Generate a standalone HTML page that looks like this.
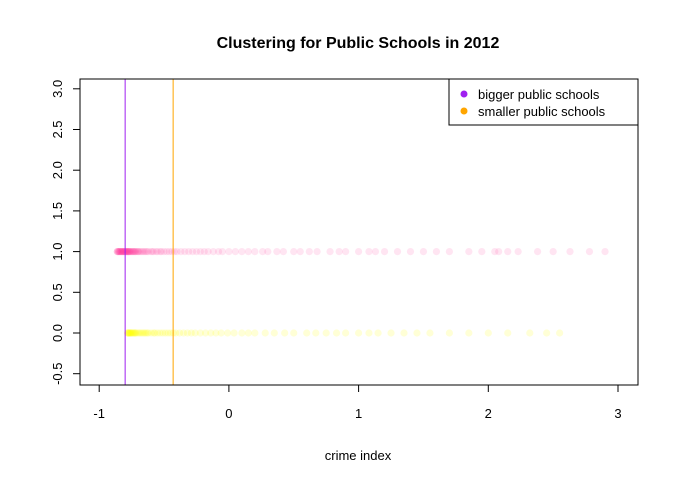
<!DOCTYPE html>
<html><head><meta charset="utf-8"><style>
body{margin:0;background:#fff;}
svg text{font-family:"Liberation Sans",Arial,sans-serif;}
</style></head><body>
<svg id="chart" width="678" height="484" xmlns="http://www.w3.org/2000/svg">
<rect width="678" height="484" fill="#fff"/>
<text x="358" y="48" text-anchor="middle" font-size="16" font-weight="bold">Clustering for Public Schools in 2012</text>
<g id="pts"></g>
<g id="axes"></g>
<rect x="80" y="79" width="558" height="306" fill="none" stroke="#000"/>
<text x="358" y="460" text-anchor="middle" font-size="13">crime index</text>
<g>
<rect x="449" y="79" width="189" height="46" fill="#fff" stroke="#000"/>
<circle cx="464" cy="94" r="3.5" fill="#a020f0"/>
<text x="478" y="99" font-size="13">bigger public schools</text>
<circle cx="464" cy="111" r="3.5" fill="#ffa500"/>
<text x="478" y="116" font-size="13">smaller public schools</text>
</g>
</svg>
<script>
const xTicks=[-1,0,1,2,3];
const yTicks=[-0.5,0,0.5,1,1.5,2,2.5,3];
const yTickLabels=["-0.5","0.0","0.5","1.0","1.5","2.0","2.5","3.0"];
const centerLines=[-0.80,-0.43];
const bigX=[-0.86,-0.86,-0.86,-0.85,-0.85,-0.85,-0.84,-0.84,-0.84,-0.83,-0.83,-0.83,-0.82,-0.82,-0.82,-0.81,-0.81,-0.81,-0.8,-0.8,-0.8,-0.79,-0.79,-0.79,-0.78,-0.78,-0.78,-0.77,-0.77,-0.77,-0.76,-0.76,-0.75,-0.75,-0.74,-0.74,-0.73,-0.73,-0.72,-0.72,-0.71,-0.7,-0.7,-0.69,-0.68,-0.67,-0.66,-0.65,-0.64,-0.63,-0.62,-0.6,-0.59,-0.58,-0.56,-0.55,-0.53,-0.52,-0.5,-0.48,-0.46,-0.44,-0.42,-0.4,-0.37,-0.34,-0.31,-0.28,-0.25,-0.22,-0.19,-0.16,-0.12,-0.08,-0.05,0,0.05,0.1,0.15,0.2,0.26,0.3,0.37,0.42,0.5,0.55,0.62,0.68,0.78,0.85,0.9,1.0,1.08,1.13,1.2,1.3,1.4,1.5,1.6,1.7,1.85,1.95,2.05,2.08,2.15,2.23,2.38,2.5,2.63,2.78,2.9];
const bigY=1;
const smallX=[-0.78,-0.78,-0.78,-0.77,-0.77,-0.77,-0.76,-0.76,-0.76,-0.75,-0.75,-0.74,-0.74,-0.73,-0.73,-0.72,-0.72,-0.71,-0.7,-0.69,-0.68,-0.67,-0.66,-0.65,-0.64,-0.63,-0.62,-0.6,-0.58,-0.57,-0.55,-0.53,-0.51,-0.49,-0.47,-0.45,-0.43,-0.41,-0.38,-0.35,-0.32,-0.29,-0.26,-0.22,-0.18,-0.14,-0.1,-0.06,-0.01,0.04,0.1,0.15,0.2,0.28,0.35,0.43,0.5,0.6,0.67,0.75,0.83,0.9,1.0,1.08,1.15,1.25,1.35,1.45,1.55,1.7,1.85,2.0,2.15,2.32,2.45,2.55];
const smallY=0;
const sx=v=>228.9+v*129.7;
const sy=v=>333-v*81.4;
const NS="http://www.w3.org/2000/svg";
const pts=document.getElementById('pts'), ax=document.getElementById('axes');
function mk(t,a,p){const e=document.createElementNS(NS,t);for(const k in a)e.setAttribute(k,a[k]);p.appendChild(e);return e;}
bigX.forEach(v=>{const c=mk('circle',{cx:sx(v),cy:sy(bigY),r:3.6,fill:'#ff3399','fill-opacity':0.13},pts);

});
smallX.forEach(v=>{const c=mk('circle',{cx:sx(v),cy:sy(smallY),r:3.6,fill:'#ffff00','fill-opacity':0.16},pts);

});
const lc=['#a020f0','#ffa500'];
centerLines.forEach((v,i)=>{const l=mk('line',{x1:sx(v),x2:sx(v),y1:79,y2:385,stroke:lc[i],'stroke-width':1},ax);

});
mk('line',{x1:sx(-1),x2:sx(3),y1:385,y2:385,stroke:'#000'},ax);
xTicks.forEach(v=>{mk('line',{x1:sx(v),x2:sx(v),y1:385,y2:392,stroke:'#000'},ax);
const t=mk('text',{x:sx(v),y:418,'text-anchor':'middle','font-size':13},ax);t.textContent=v;

});
mk('line',{x1:80,x2:80,y1:sy(-0.5),y2:sy(3),stroke:'#000'},ax);
yTicks.forEach((v,i)=>{mk('line',{x1:73,x2:80,y1:sy(v),y2:sy(v),stroke:'#000'},ax);
const t=mk('text',{x:0,y:0,'text-anchor':'middle','font-size':13,transform:`translate(62,${sy(v)}) rotate(-90)`},ax);t.textContent=yTickLabels[i];

});
</script>
</body></html>
